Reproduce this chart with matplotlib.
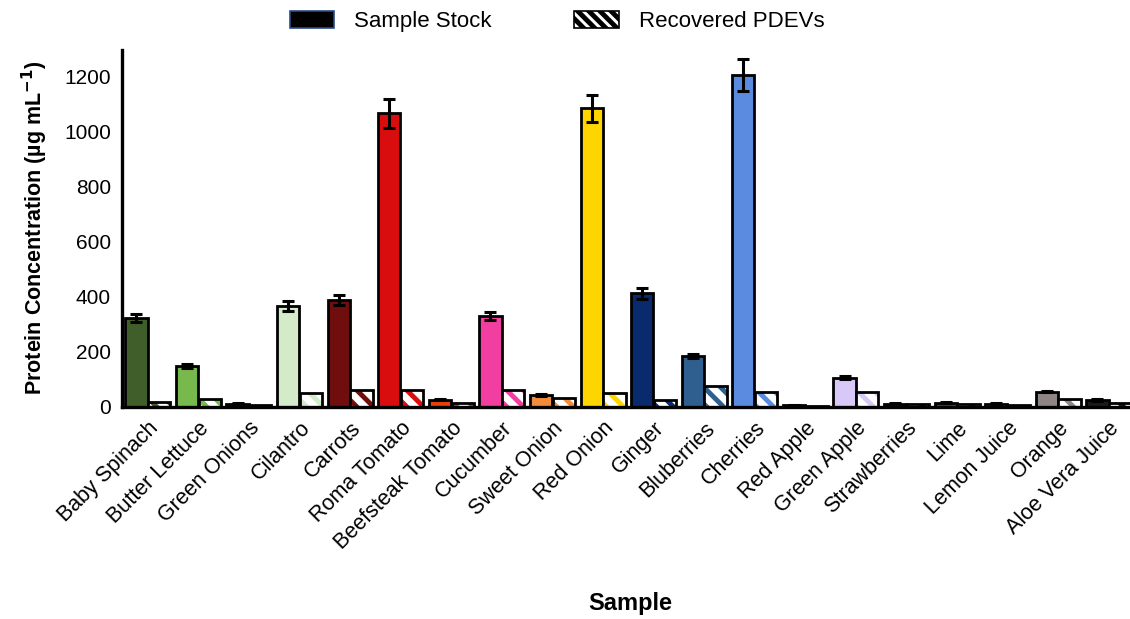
import matplotlib
matplotlib.use("Agg")
import matplotlib.pyplot as plt
from matplotlib.patches import Patch
import numpy as np

samples = ["Baby Spinach", "Butter Lettuce", "Green Onions", "Cilantro", "Carrots",
           "Roma Tomato", "Beefsteak Tomato", "Cucumber", "Sweet Onion", "Red Onion",
           "Ginger", "Bluberries", "Cherries", "Red Apple", "Green Apple",
           "Strawberries", "Lime", "Lemon Juice", "Orange", "Aloe Vera Juice"]
stock = [323, 147, 11, 367, 389, 1068, 26, 330, 42, 1086,
         413, 185, 1207, 5, 106, 11, 14, 11, 55, 25]
stock_err = [15, 8, 2, 18, 18, 52, 3, 14, 3, 50,
             20, 8, 58, 1, 5, 2, 2, 2, 3, 3]
recovered = [18, 28, 5, 51, 62, 62, 12, 62, 33, 48,
             25, 77, 52, 4, 55, 8, 10, 5, 27, 15]
colors = ["#3f5e2a", "#78b94e", "#2f4a1c", "#d3ebc9", "#700d0d",
          "#d90d0d", "#e8400a", "#f23ea0", "#f28c3a", "#ffd500",
          "#0a2a6e", "#2e5f8f", "#5a8be0", "#8b1010", "#d8c8f8",
          "#5a1030", "#3a5a10", "#c0b020", "#8f8585", "#1a1a1a"]

plt.rcParams["font.family"] = ["Liberation Sans", "DejaVu Sans"]
plt.rcParams["hatch.linewidth"] = 3.5

fig = plt.figure(figsize=(11.30, 6.19), dpi=100)
ax = fig.add_axes([0.108, 0.343, 0.892, 0.577])

x = np.arange(len(samples))
w = 0.44
off = 0.225

ax.bar(x - off, stock, width=w, color=colors, edgecolor="black", linewidth=2.0, zorder=2)
ax.errorbar(x - off, stock, yerr=stock_err, fmt="none", ecolor="black",
            elinewidth=2.2, capsize=4.5, capthick=2.2, zorder=3)

# hatched recovered bars: coloured stripes on white, black outline on top
for xi, v, c in zip(x + off, recovered, colors):
    ax.bar(xi, v, width=w, color="white", edgecolor=c, hatch="\\\\", linewidth=0, zorder=2)
ax.bar(x + off, recovered, width=w, fill=False, edgecolor="black", linewidth=2.0, zorder=3)

ax.set_xlim(-0.51, 19.42)
ax.set_ylim(0, 1300)
ax.set_yticks(range(0, 1201, 200))
ax.set_xticks(x)
ax.set_xticklabels(samples, rotation=45, ha="right", rotation_mode="anchor", fontsize=15.5)
ax.tick_params(axis="y", labelsize=15, length=0, pad=8)
ax.tick_params(axis="x", length=0, pad=8)

for s in ["top", "right"]:
    ax.spines[s].set_visible(False)
for s in ["left", "bottom"]:
    ax.spines[s].set_linewidth(2.4)

ax.set_ylabel("Protein Concentration (µg mL$^{\\mathbf{-1}}$)", fontsize=15.5,
              fontweight="bold", labelpad=10)
fig.text(0.558, 0.025, "Sample", fontsize=17, fontweight="bold", ha="center", va="center")

handles = [Patch(facecolor="black", edgecolor="#2a4a8a", linewidth=1.2, label="Sample Stock"),
           Patch(facecolor="white", edgecolor="black", hatch="\\\\\\", linewidth=1.2,
                 label="Recovered PDEVs")]
fig.legend(handles=handles, loc="center", bbox_to_anchor=(0.493, 0.965), ncol=2,
           frameon=False, fontsize=16, handlelength=2.0, handleheight=0.8,
           columnspacing=3.7, handletextpad=0.9)

fig.savefig("out.png", dpi=100)
